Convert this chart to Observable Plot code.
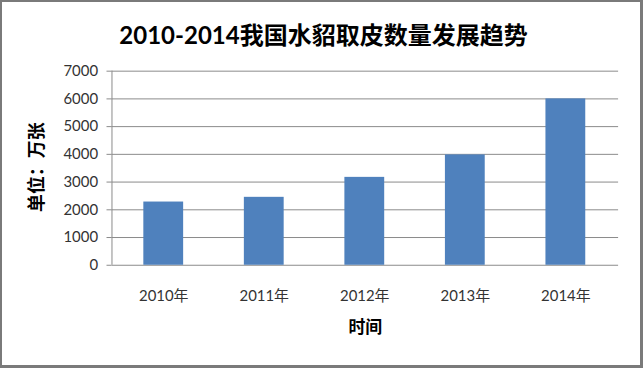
<!DOCTYPE html>
<html>
<head>
<meta charset="utf-8">
<script src="https://cdn.jsdelivr.net/npm/d3@7"></script>
<script src="https://cdn.jsdelivr.net/npm/@observablehq/plot@0.6"></script>
<style>
  html, body { margin: 0; padding: 0; background: #fff; }
  #wrap { position: relative; width: 643px; height: 368px; box-sizing: border-box; border: 2px solid #7a7a7a; border-right-width: 3px; border-bottom-width: 3px; overflow: hidden; }
  #title { position: absolute; left: 0; width: 643px; top: 14px; text-align: center; font: bold 24px Lato, "Noto Sans CJK SC", sans-serif; color: #000; }
  #chart { position: absolute; left: -2px; top: -2px; }
</style>
</head>
<body>
<div id="wrap">
  <div id="chart"></div>
  <div id="title">2010-2014我国水貂取皮数量发展趋势</div>
</div>
<script>
const years = ["2010年", "2011年", "2012年", "2013年", "2014年"];
const values = [2280, 2450, 3170, 3980, 6000];
const yTicks = [0, 1000, 2000, 3000, 4000, 5000, 6000, 7000];

const data = years.map((y, i) => ({year: y, value: values[i]}));

const chart = Plot.plot({
  width: 643,
  height: 368,
  marginLeft: 112,
  marginRight: 22,
  marginTop: 71,
  marginBottom: 102,
  style: {fontFamily: 'Lato, "Noto Sans CJK SC", sans-serif', fontSize: "15px", color: "#333", background: "transparent"},
  x: {domain: years, paddingInner: 0.6, paddingOuter: 0.3, label: null},
  y: {domain: [0, 7000], label: null},
  marks: [
    Plot.ruleY(yTicks, {stroke: "#8a8a8a", strokeWidth: 1, strokeOpacity: 1}),
    Plot.axisY({ticks: yTicks, tickSize: 5, tickPadding: 9, stroke: "#8a8a8a", strokeOpacity: 1, tickFormat: d => String(d), fontSize: 15, fill: "#333"}),
    Plot.barY(data, {x: "year", y: "value", fill: "#4f81bd"}),
    Plot.axisX({tickSize: 0, tickPadding: 25, fontSize: 15, fill: "#333"}),
    Plot.text(["时间"], {frameAnchor: "bottom", lineAnchor: "middle", dy: 63, fontWeight: "bold", fontSize: 17, fill: "#000", fontFamily: '"Noto Sans CJK SC", sans-serif'}),
    Plot.text(["单位：万张"], {frameAnchor: "left", textAnchor: "middle", dx: -75, dy: -1, rotate: -90, fontWeight: "bold", fontSize: 18, fill: "#000", fontFamily: '"Noto Sans CJK SC", sans-serif'})
  ]
});

// vertical axis line at the left edge of the plot area
d3.select(chart).append("line")
  .attr("x1", 112.5).attr("x2", 112.5)
  .attr("y1", 71).attr("y2", 266)
  .attr("stroke", "#8a8a8a")
  .attr("stroke-width", 1);
document.getElementById("chart").appendChild(chart);
</script>
</body>
</html>
